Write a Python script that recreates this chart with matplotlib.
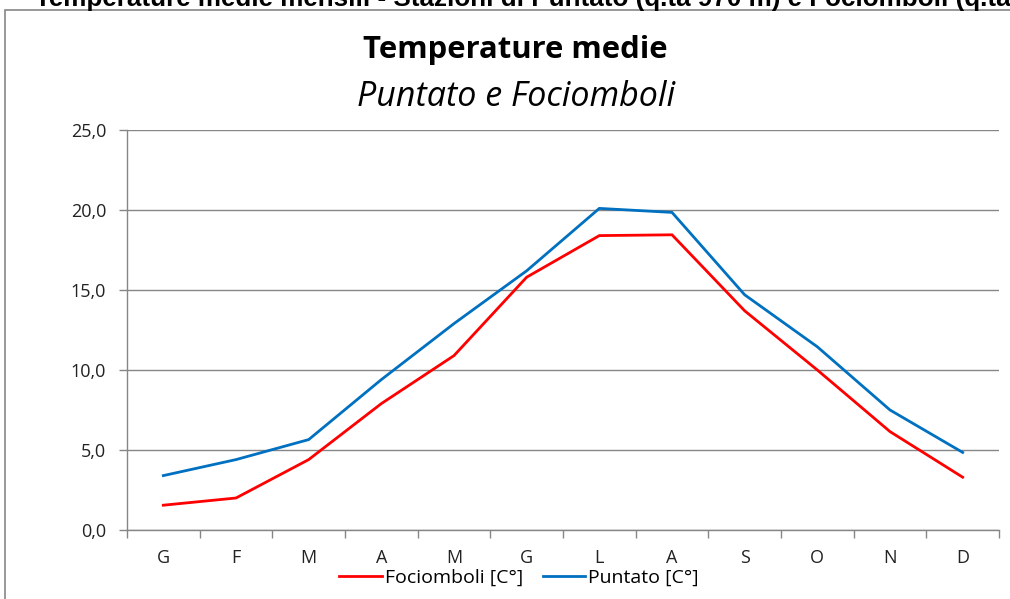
import matplotlib
matplotlib.use("Agg")
import matplotlib.pyplot as plt
from matplotlib.patches import Rectangle

# dati
mesi = ["G", "F", "M", "A", "M", "G", "L", "A", "S", "O", "N", "D"]
fociomboli = [1.55, 2.0, 4.4, 7.9, 10.9, 15.8, 18.4, 18.45, 13.7, 10.0, 6.15, 3.3]
puntato = [3.4, 4.4, 5.65, 9.4, 12.9, 16.2, 20.1, 19.85, 14.7, 11.45, 7.5, 4.85]
yticks = [0, 5, 10, 15, 20, 25]

W, H = 1010, 599
fig = plt.figure(figsize=(W / 100, H / 100), dpi=100)

# cornice del grafico (tagliata a destra e in basso)
fig.patches.append(Rectangle((5 / W, -0.1), 1.2, 1 - 10 / H + 0.1,
                             transform=fig.transFigure, fill=False,
                             edgecolor="#868686", linewidth=1.2))

# titolo del documento, tagliato in alto
fig.text(35 / W, 1 - 6 / H, "Temperature medie mensili - Stazioni di Puntato (q.ta 970 m) e Fociomboli (q.ta 1270 m)",
         family="Liberation Sans", weight="bold", fontsize=18.7, ha="left", va="baseline")

fig.text(515 / W, 1 - 50 / H, "Temperature medie", family="Open Sans", weight="bold",
         fontsize=22.3, ha="center", va="center")
fig.text(516 / W, 1 - 97 / H, "Puntato e Fociomboli", family="Open Sans", style="italic",
         fontsize=24.5, ha="center", va="center")

ax = fig.add_axes([127 / W, (H - 530) / H, 872 / W, 400 / H])
x = range(len(mesi))
ax.plot(x, fociomboli, color="#FF0000", linewidth=2, label="Fociomboli [C°]", solid_joinstyle="miter")
ax.plot(x, puntato, color="#0070C0", linewidth=2, label="Puntato [C°]", solid_joinstyle="miter")

ax.set_xlim(-0.5, len(mesi) - 0.5)
ax.set_ylim(0, 25)
ax.set_yticks(yticks)
ax.set_yticklabels([f"{v:.1f}".replace(".", ",") for v in yticks])
ax.set_xticks(list(x))
ax.set_xticklabels(mesi)
ax.set_xticks([i - 0.5 for i in range(len(mesi) + 1)], minor=True)
ax.tick_params(axis="x", which="major", length=0, pad=14, labelsize=13, colors="#222222")
ax.tick_params(axis="x", which="minor", length=6, width=1, color="#868686", direction="out")
ax.tick_params(axis="y", length=6, width=1, color="#868686", pad=9, labelsize=13, labelcolor="#222222")
for lab in ax.get_xticklabels() + ax.get_yticklabels():
    lab.set_family("Open Sans")

ax.grid(axis="y", color="#868686", linewidth=1)
ax.set_axisbelow(True)
for s in ["top", "right"]:
    ax.spines[s].set_visible(False)
for s in ["left", "bottom"]:
    ax.spines[s].set_color("#868686")
    ax.spines[s].set_linewidth(1)

leg = fig.legend(loc="center", bbox_to_anchor=(519 / W, 1 - 578 / H), ncol=2, frameon=False,
                 prop={"family": "Open Sans", "size": 14}, handlelength=2.2,
                 handletextpad=0.15, columnspacing=1.0)

fig.savefig("out.png", dpi=100)
